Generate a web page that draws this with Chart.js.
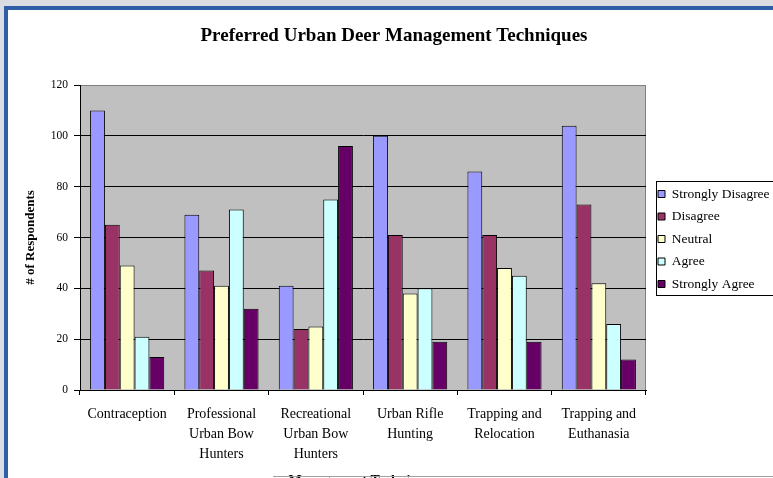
<!DOCTYPE html>
<html>
<head>
<meta charset="utf-8">
<script src="https://cdn.jsdelivr.net/npm/chart.js@4.4.1/dist/chart.umd.min.js"></script>
<style>
  html, body { margin: 0; padding: 0; overflow: hidden; width: 773px; height: 478px; background: #dadee3; }
  #frame { position: absolute; left: 4px; top: 6px; width: 900px; height: 600px; background: #ffffff;
           border-left: 4px solid #2d5fa6; border-top: 4px solid #2d5fa6; }
  #c { position: absolute; left: 0; top: 0; }
  #bline { position: absolute; left: 273px; top: 476px; width: 600px; height: 1px; background: #a0a0a0; }
</style>
</head>
<body>
<div id="frame"></div>
<canvas id="c" width="788" height="520"></canvas>
<div id="bline"></div>
<script>
const categories = [
  "Contraception",
  ["Professional", "Urban Bow", "Hunters"],
  ["Recreational", "Urban Bow", "Hunters"],
  ["Urban Rifle", "Hunting"],
  ["Trapping and", "Relocation"],
  ["Trapping and", "Euthanasia"]
];
const seriesNames = ["Strongly Disagree", "Disagree", "Neutral", "Agree", "Strongly Agree"];
const strongDisagree = [110, 69, 41, 100, 86, 104];
const disagree       = [65, 47, 24, 61, 61, 73];
const neutral        = [49, 41, 25, 38, 48, 42];
const agree          = [21, 71, 75, 40, 45, 26];
const strongAgree    = [13, 32, 96, 19, 19, 12];
const yMin = 0, yMax = 120, yStep = 20;

const seriesValues = [strongDisagree, disagree, neutral, agree, strongAgree];
const seriesColors = ["#9999FF", "#993366", "#FFFFCC", "#CCFFFF", "#660066"];
const SERIF = '"Liberation Serif", "Times New Roman", serif';

const plotBg = {
  id: 'plotBg',
  beforeDraw(chart) {
    const {ctx, chartArea: a} = chart;
    ctx.save();
    ctx.fillStyle = '#c0c0c0';
    ctx.fillRect(a.left, a.top, a.right - a.left, a.bottom - a.top);
    ctx.strokeStyle = '#808080';
    ctx.lineWidth = 1;
    ctx.beginPath();
    ctx.moveTo(a.left, a.top + 0.5);
    ctx.lineTo(a.right - 0.5, a.top + 0.5);
    ctx.lineTo(a.right - 0.5, a.bottom);
    ctx.stroke();
    ctx.restore();
  }
};

const legendTweak = {
  id: 'legendTweak',
  beforeLayout(chart) {
    const lg = chart.legend;
    if (lg && !lg._patched) {
      const f = lg.fit;
      lg.fit = function () { f.call(this); this.width = 142; };
      lg._patched = true;
    }
  },
  afterLayout(chart) {
    const lg = chart.legend;
    if (lg) { lg.left += 3; lg.right += 3; lg.top -= 21; lg.bottom -= 21; }
  },
  afterDraw(chart) {
    const lg = chart.legend;
    if (!lg || !lg.legendHitBoxes || !lg.legendHitBoxes.length) return;
    const hb = lg.legendHitBoxes;
    const first = hb[0], last = hb[hb.length - 1];
    const ctx = chart.ctx;
    const x = Math.round(first.left - 2) + 0.5;
    const y = Math.round(first.top - 6) + 0.5;
    const b = Math.round(last.top + last.height + 4) + 0.5;
    ctx.save();
    ctx.strokeStyle = '#000';
    ctx.lineWidth = 1;
    ctx.strokeRect(x, y, 200, b - y);
    ctx.restore();
  }
};

new Chart(document.getElementById('c'), {
  type: 'bar',
  data: {
    labels: categories,
    datasets: seriesNames.map((n, i) => ({
      label: n,
      data: seriesValues[i],
      backgroundColor: seriesColors[i],
      borderColor: '#000000',
      borderWidth: 1,
      categoryPercentage: 0.786,
      barPercentage: 1.0
    }))
  },
  options: {
    responsive: false,
    animation: false,
    devicePixelRatio: 1,
    layout: { padding: 0 },
    plugins: {
      title: {
        display: true,
        text: 'Preferred Urban Deer Management Techniques',
        color: '#000',
        font: { family: SERIF, size: 19, weight: 'bold' },
        padding: { top: 24.6, bottom: 37.6 }
      },
      legend: {
        position: 'right',
        labels: {
          color: '#000',
          font: { family: SERIF, size: 13.5 },
          boxWidth: 7,
          boxHeight: 7,
          padding: 9
        }
      },
      tooltip: { enabled: false }
    },
    scales: {
      x: {
        afterFit(s) { s.height = 130; },
        grid: { display: true, drawOnChartArea: false, offset: true, color: '#000', tickLength: 5 },
        border: { color: '#000', width: 1 },
        ticks: {
          color: '#000',
          font: { family: SERIF, size: 14, lineHeight: 1.43 },
          padding: 9,
          maxRotation: 0,
          autoSkip: false
        },
        title: {
          display: true,
          text: 'Management Techniques',
          color: '#000',
          font: { family: SERIF, size: 14, weight: 'bold' },
          padding: { top: 0, bottom: 30 }
        }
      },
      y: {
        min: yMin,
        max: yMax,
        afterFit(s) { s.width = 80; },
        grid: {
          color: (ctx) => (ctx.tick && ctx.tick.value === yMax ? '#808080' : '#000'),
          tickColor: '#000',
          tickLength: 6,
          lineWidth: 1
        },
        border: { color: '#000', width: 1 },
        ticks: {
          stepSize: yStep,
          color: '#000',
          font: { family: SERIF, size: 11.5 },
          padding: 6
        },
        title: {
          display: true,
          text: '# of Respondents',
          color: '#000',
          font: { family: SERIF, size: 13, weight: 'bold' },
          padding: { top: 23, bottom: 0 }
        }
      }
    }
  },
  plugins: [plotBg, legendTweak]
});
</script>
</body>
</html>
